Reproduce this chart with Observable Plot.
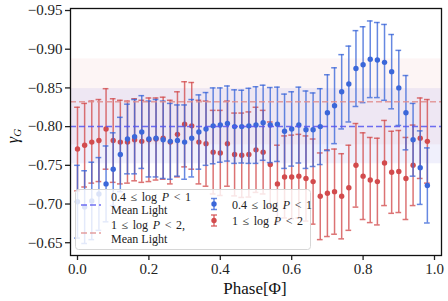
<!DOCTYPE html>
<html><head><meta charset="utf-8">
<script src="https://cdn.jsdelivr.net/npm/d3@7"></script>
<script src="https://cdn.jsdelivr.net/npm/@observablehq/plot@0.6"></script>
<style>body{margin:0;background:#fff}#chart{width:448px;height:301px}</style>
</head><body><div id="chart"></div>
<script>
const phase = [0.00,0.02,0.04,0.06,0.08,0.10,0.12,0.14,0.16,0.18,0.20,0.22,0.24,0.26,0.28,0.30,0.32,0.34,0.36,0.38,0.40,0.42,0.44,0.46,0.48,0.50,0.52,0.54,0.56,0.58,0.60,0.62,0.64,0.66,0.68,0.70,0.72,0.74,0.76,0.78,0.80,0.82,0.84,0.86,0.88,0.90,0.92,0.94,0.96,0.98];
const blueY = [-0.703,-0.696,-0.704,-0.713,-0.726,-0.745,-0.764,-0.784,-0.787,-0.793,
  -0.784,-0.785,-0.783,-0.781,-0.782,-0.780,-0.785,-0.793,-0.797,-0.801,
  -0.802,-0.804,-0.800,-0.800,-0.801,-0.802,-0.805,-0.802,-0.803,-0.794,
  -0.797,-0.802,-0.796,-0.796,-0.800,-0.818,-0.827,-0.845,-0.855,-0.875,
  -0.880,-0.887,-0.886,-0.883,-0.871,-0.850,-0.818,-0.783,-0.747,-0.724];
const blueErr = [0.047,0.047,0.050,0.047,0.049,0.047,0.048,0.045,0.048,0.047,
  0.049,0.050,0.050,0.049,0.046,0.048,0.050,0.048,0.047,0.049,
  0.048,0.0485,0.0475,0.047,0.0485,0.0495,0.0485,0.0485,0.048,0.048,
  0.048,0.049,0.050,0.0475,0.049,0.049,0.049,0.048,0.049,0.049,
  0.049,0.0495,0.0485,0.049,0.048,0.0485,0.048,0.047,0.0475,0.0485];
const redY = [-0.771,-0.776,-0.780,-0.782,-0.797,-0.782,-0.780,-0.780,-0.783,-0.781,
  -0.783,-0.784,-0.785,-0.780,-0.790,-0.803,-0.801,-0.780,-0.778,-0.767,
  -0.766,-0.778,-0.764,-0.763,-0.764,-0.770,-0.767,-0.751,-0.726,-0.735,
  -0.735,-0.736,-0.733,-0.729,-0.710,-0.714,-0.716,-0.710,-0.721,-0.750,
  -0.736,-0.731,-0.729,-0.753,-0.741,-0.742,-0.733,-0.750,-0.785,-0.781];
const redErr = [0.054,0.054,0.053,0.053,0.052,0.054,0.054,0.053,0.053,0.053,
  0.054,0.053,0.053,0.054,0.055,0.055,0.056,0.054,0.055,0.054,
  0.055,0.055,0.0535,0.0545,0.055,0.055,0.054,0.055,0.050,0.053,
  0.054,0.054,0.055,0.055,0.056,0.056,0.055,0.055,0.055,0.054,
  0.056,0.055,0.056,0.055,0.053,0.053,0.053,0.052,0.052,0.054];
const seriesNames = ["0.4 ≤ log P < 1", "1 ≤ log P < 2"];
const meanLight = [-0.800, -0.832];
const bandLow = [-0.849, -0.8875];
const bandHigh = [-0.752, -0.7765];
const xTicks = [0.0, 0.2, 0.4, 0.6, 0.8, 1.0];
const yTicks = [-0.95, -0.90, -0.85, -0.80, -0.75, -0.70, -0.65];

const BLUE = "#3b67d9", RED = "#d24b4d";
const xDom = [-0.0196, 1.0196];
const capHalf = 0.008;
const blue = phase.map((p, i) => ({p, y: blueY[i], e: blueErr[i]}));
const red = phase.map((p, i) => ({p, y: redY[i], e: redErr[i]}));
const bands = [
  {lo: bandLow[1], hi: bandHigh[1], fill: "rgb(225,130,130)", op: 0.08},
  {lo: bandLow[0], hi: bandHigh[0], fill: "rgb(110,110,230)", op: 0.1}
];

function errMarks(data, color) {
  return [
    Plot.ruleX(data, {x: "p", y1: d => d.y - d.e, y2: d => d.y + d.e, stroke: color, strokeWidth: 1.5, strokeOpacity: 0.78}),
    Plot.ruleY(data, {y: d => d.y - d.e, x1: d => d.p - capHalf, x2: d => d.p + capHalf, stroke: color, strokeWidth: 1.5, strokeOpacity: 0.78}),
    Plot.ruleY(data, {y: d => d.y + d.e, x1: d => d.p - capHalf, x2: d => d.p + capHalf, stroke: color, strokeWidth: 1.5, strokeOpacity: 0.78}),
    Plot.dot(data, {x: "p", y: "y", r: 2.7, fill: color, stroke: "none"})
  ];
}

const plot = Plot.plot({
  width: 448, height: 301,
  marginLeft: 70, marginRight: 7, marginTop: 8, marginBottom: 46,
  style: {fontFamily: "Liberation Serif", fontSize: "15px", background: "white", color: "#222"},
  x: {domain: xDom},
  y: {domain: [-0.6335, -0.9526]},
  marks: [
    Plot.rect(bands, {x1: () => xDom[0], x2: () => xDom[1], y1: "lo", y2: "hi", fill: d => d.fill, fillOpacity: d => d.op}),
    ...errMarks(red, RED),
    ...errMarks(blue, BLUE),
    Plot.ruleY([meanLight[0]], {stroke: "#5656ee", strokeWidth: 1.5, strokeDasharray: "6,3", strokeOpacity: 0.85}),
    Plot.ruleY([meanLight[1]], {stroke: "#e08e8e", strokeWidth: 1.5, strokeDasharray: "6,3", strokeOpacity: 0.85}),
    Plot.axisX(xTicks, {tickFormat: d3.format(".1f"), tickSize: 5, tickPadding: 3, strokeWidth: 1.3, label: null, fontSize: 15}),
    Plot.axisY(yTicks, {tickFormat: d3.format(".2f"), tickSize: 5, tickPadding: 3, strokeWidth: 1.3, label: null, fontSize: 15}),
    Plot.frame({stroke: "#111", strokeWidth: 1.3})
  ]
});
document.getElementById("chart").appendChild(plot);

const svg = d3.select(plot);
const F = "Liberation Serif";
// axis labels
svg.append("text").attr("x", 255).attr("y", 294).attr("text-anchor", "middle")
  .attr("font-family", F).attr("font-size", 17).attr("fill", "#111").text("Phase[Φ]");
const yl = svg.append("text").attr("transform", "translate(18,136) rotate(-90)").attr("text-anchor", "middle")
  .attr("font-family", F).attr("font-size", 16).attr("fill", "#111");
yl.append("tspan").attr("font-style", "italic").text("γ");
yl.append("tspan").attr("font-style", "italic").attr("font-size", 11).attr("dy", 3).text("G");

// legend
const lg = svg.append("g").attr("font-family", F).attr("font-size", 12).attr("fill", "#222").attr("text-anchor", "start");
lg.append("rect").attr("x", 75.5).attr("y", 189.5).attr("width", 235).attr("height", 60).attr("rx", 3)
  .attr("fill", "white").attr("fill-opacity", 0.82).attr("stroke", "#d6d6d6");
function mathText(x, y, s) {
  const t = lg.append("text").attr("x", x).attr("y", y).attr("text-anchor", "start").attr("word-spacing", 1.6);
  const parts = s.split("P");
  t.append("tspan").text(parts[0]);
  t.append("tspan").attr("font-style", "italic").text("P");
  t.append("tspan").text(parts[1]);
  return t;
}
lg.append("line").attr("x1", 81).attr("x2", 101).attr("y1", 205).attr("y2", 205)
  .attr("stroke", "#5656ee").attr("stroke-width", 1.5).attr("stroke-dasharray", "6,3").attr("stroke-opacity", 0.85);
mathText(111, 201, seriesNames[0]);
lg.append("text").attr("x", 111).attr("y", 214).attr("text-anchor", "start").text("Mean Light");
lg.append("line").attr("x1", 81).attr("x2", 101).attr("y1", 233).attr("y2", 233)
  .attr("stroke", "#e08e8e").attr("stroke-width", 1.5).attr("stroke-dasharray", "6,3").attr("stroke-opacity", 0.85);
mathText(111, 229, seriesNames[1] + ",");
lg.append("text").attr("x", 111).attr("y", 243).attr("text-anchor", "start").text("Mean Light");
function errGlyph(cx, cy, color) {
  const g = lg.append("g").attr("stroke", color).attr("stroke-width", 1.5).attr("stroke-opacity", 0.78);
  g.append("line").attr("x1", cx).attr("x2", cx).attr("y1", cy - 5.5).attr("y2", cy + 5.5);
  g.append("line").attr("x1", cx - 3).attr("x2", cx + 3).attr("y1", cy - 5.5).attr("y2", cy - 5.5);
  g.append("line").attr("x1", cx - 3).attr("x2", cx + 3).attr("y1", cy + 5.5).attr("y2", cy + 5.5);
  lg.append("circle").attr("cx", cx).attr("cy", cy).attr("r", 2.7).attr("fill", color);
}
errGlyph(214, 204, BLUE);
mathText(232, 208.5, seriesNames[0]);
errGlyph(214, 220.5, RED);
mathText(232, 225, seriesNames[1]);
</script>
</body></html>
